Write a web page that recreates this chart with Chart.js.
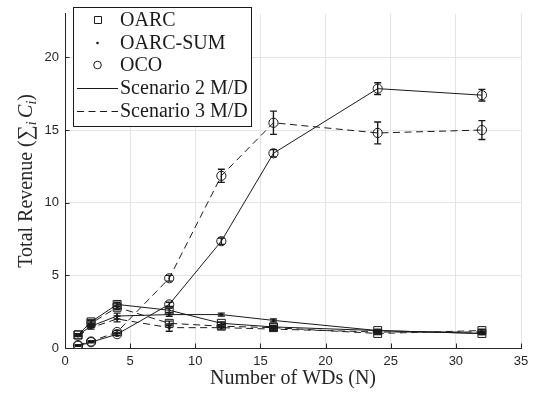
<!DOCTYPE html>
<html>
<head>
<meta charset="utf-8">
<script src="https://cdn.jsdelivr.net/npm/chart.js@4/dist/chart.umd.min.js"></script>
<style>
  html, body { margin: 0; padding: 0; background: #fff; }
  #wrap { width: 536px; height: 396px; }
</style>
</head>
<body>
<div id="wrap"><canvas id="c" width="536" height="396"></canvas></div>
<script>
// Number of WDs on the x axis
const wds = [1, 2, 4, 8, 12, 16, 24, 32];
const xTicks = [0, 5, 10, 15, 20, 25, 30, 35];
const yTicks = [0, 5, 10, 15, 20];

// Scenario 2 M/D (solid lines)
const oarcS2       = [0.90, 1.80, 3.00, 2.60, 1.70, 1.45, 1.20, 1.00];
const oarcS2Err    = [0.06, 0.10, 0.15, 0.15, 0.10, 0.10, 0.08, 0.08];
const oarcSumS2    = [0.90, 1.50, 2.20, 2.30, 2.30, 1.90, 1.20, 1.00];
const oarcSumS2Err = [0.06, 0.10, 0.20, 0.12, 0.10, 0.10, 0.08, 0.08];
const ocoS2        = [0.15, 0.40, 0.95, 3.00, 7.35, 13.40, 17.85, 17.40];
const ocoS2Err     = [0.03, 0.05, 0.08, 0.15, 0.22, 0.25, 0.40, 0.40];

// Scenario 3 M/D (dashed lines)
const oarcS3       = [0.90, 1.70, 2.80, 1.70, 1.50, 1.40, 1.00, 1.20];
const oarcS3Err    = [0.06, 0.10, 0.15, 0.15, 0.10, 0.10, 0.08, 0.10];
const oarcSumS3    = [0.85, 1.40, 2.00, 1.40, 1.40, 1.30, 1.10, 1.10];
const oarcSumS3Err = [0.06, 0.10, 0.20, 0.25, 0.10, 0.10, 0.08, 0.08];
const ocoS3        = [0.20, 0.45, 1.10, 4.80, 11.85, 15.50, 14.80, 15.00];
const ocoS3Err     = [0.03, 0.05, 0.10, 0.20, 0.45, 0.80, 0.75, 0.65];

const INK = '#1a1a1a';
const AXIS = '#262626';
const GRID = '#e4e4e4';
const SERIF = '"Liberation Serif", "DejaVu Serif", serif';
const SANS = '"Liberation Sans", "DejaVu Sans", sans-serif';

function series(values, errs, marker, dashed) {
  const pt = {
    square: { pointStyle: 'rect', pointRadius: 5.6 },
    dot:    { pointStyle: 'circle', pointRadius: 1.3 },
    circle: { pointStyle: 'circle', pointRadius: 4.6 }
  }[marker];
  return {
    data: wds.map((x, i) => ({ x: x, y: values[i] })),
    errors: errs,
    borderColor: INK,
    borderWidth: 1,
    borderDash: dashed ? [7, 4.5] : [],
    pointStyle: pt.pointStyle,
    pointRadius: pt.pointRadius,
    pointHoverRadius: pt.pointRadius,
    pointBorderColor: INK,
    pointBorderWidth: 1,
    pointBackgroundColor: marker === 'dot' ? INK : 'rgba(0,0,0,0)',
    fill: false,
    tension: 0
  };
}

const datasets = [
  series(oarcS2, oarcS2Err, 'square', false),
  series(oarcSumS2, oarcSumS2Err, 'dot', false),
  series(ocoS2, ocoS2Err, 'circle', false),
  series(oarcS3, oarcS3Err, 'square', true),
  series(oarcSumS3, oarcSumS3Err, 'dot', true),
  series(ocoS3, ocoS3Err, 'circle', true)
];

// vertical error bars with caps, placed through the chart scales
const errorBars = {
  id: 'errorBars',
  afterDatasetsDraw(chart) {
    const ctx = chart.ctx;
    const ys = chart.scales.y;
    ctx.save();
    ctx.strokeStyle = INK;
    ctx.lineWidth = 1.4;
    ctx.setLineDash([]);
    chart.data.datasets.forEach((ds, di) => {
      const meta = chart.getDatasetMeta(di);
      meta.data.forEach((el, j) => {
        const v = ds.data[j].y, e = ds.errors[j];
        const x = el.x;
        const t = ys.getPixelForValue(v + e);
        const b = ys.getPixelForValue(v - e);
        const cap = 3.5;
        ctx.beginPath();
        ctx.moveTo(x, t); ctx.lineTo(x, b);
        ctx.moveTo(x - cap, t); ctx.lineTo(x + cap, t);
        ctx.moveTo(x - cap, b); ctx.lineTo(x + cap, b);
        ctx.stroke();
      });
    });
    ctx.restore();
  }
};

// inward tick marks, axis titles and the legend box
const decorations = {
  id: 'decorations',
  afterDraw(chart) {
    const ctx = chart.ctx;
    const xs = chart.scales.x, ys = chart.scales.y;
    const a = chart.chartArea;
    ctx.save();
    ctx.strokeStyle = AXIS;
    ctx.lineWidth = 1;
    ctx.beginPath();
    xTicks.forEach(v => {
      const px = Math.round(xs.getPixelForValue(v)) + 0.5;
      ctx.moveTo(px, a.bottom); ctx.lineTo(px, a.bottom - 4.5);
    });
    yTicks.forEach(v => {
      const py = Math.round(ys.getPixelForValue(v)) + 0.5;
      ctx.moveTo(a.left, py); ctx.lineTo(a.left + 4.5, py);
    });
    ctx.stroke();

    // x axis title
    ctx.fillStyle = AXIS;
    ctx.font = '20px ' + SERIF;
    ctx.textAlign = 'center';
    ctx.textBaseline = 'alphabetic';
    ctx.fillText('Number of WDs (N)', (a.left + a.right) / 2, 384);

    // y axis title with summation and subscripts
    const parts = [
      { t: 'Total Revenue (', f: '20px ' + SERIF, dy: 0 },
      { t: '\u2211', f: '21px ' + SERIF, dy: 0 },
      { t: 'i', f: 'italic 14px ' + SERIF, dy: 4 },
      { t: ' ', f: '14px ' + SERIF, dy: 0 },
      { t: 'C', f: 'italic 20px ' + SERIF, dy: 0 },
      { t: 'i', f: 'italic 14px ' + SERIF, dy: 4 },
      { t: ')', f: '20px ' + SERIF, dy: 0 }
    ];
    let total = 0;
    parts.forEach(p => { ctx.font = p.f; p.w = ctx.measureText(p.t).width; total += p.w; });
    ctx.translate(32, (a.top + a.bottom) / 2);
    ctx.rotate(-Math.PI / 2);
    ctx.textAlign = 'left';
    let cx = -total / 2;
    parts.forEach(p => {
      ctx.font = p.f;
      ctx.fillText(p.t, cx, p.dy);
      cx += p.w;
    });
    ctx.setTransform(1, 0, 0, 1, 0, 0);

    // legend
    const L = { x: 73.5, y: 7.5, w: 178, h: 119 };
    ctx.fillStyle = '#fff';
    ctx.fillRect(L.x, L.y, L.w, L.h);
    ctx.strokeStyle = INK;
    ctx.lineWidth = 1;
    ctx.strokeRect(L.x, L.y, L.w, L.h);
    const rows = [
      { label: 'OARC', kind: 'square', y: 20 },
      { label: 'OARC-SUM', kind: 'dot', y: 43 },
      { label: 'OCO', kind: 'circle', y: 65 },
      { label: 'Scenario 2 M/D', kind: 'solid', y: 88 },
      { label: 'Scenario 3 M/D', kind: 'dashed', y: 111 }
    ];
    rows.forEach(r => {
      ctx.strokeStyle = INK;
      ctx.fillStyle = INK;
      ctx.lineWidth = 1;
      ctx.setLineDash([]);
      ctx.beginPath();
      if (r.kind === 'square') {
        ctx.rect(94.5, r.y - 3.5, 7, 7); ctx.stroke();
      } else if (r.kind === 'dot') {
        ctx.arc(97.5, r.y, 1.3, 0, Math.PI * 2); ctx.fill();
      } else if (r.kind === 'circle') {
        ctx.arc(97.5, r.y, 3.8, 0, Math.PI * 2); ctx.stroke();
      } else {
        if (r.kind === 'dashed') ctx.setLineDash([7, 4.5]);
        ctx.moveTo(77, r.y + 0.5); ctx.lineTo(118, r.y + 0.5); ctx.stroke();
      }
      ctx.setLineDash([]);
      ctx.fillStyle = INK;
      ctx.font = '20px ' + SERIF;
      ctx.textAlign = 'left';
      ctx.textBaseline = 'middle';
      ctx.fillText(r.label, 120, r.y + 1);
    });
    ctx.restore();
  }
};

new Chart(document.getElementById('c'), {
  type: 'line',
  data: { datasets: datasets },
  options: {
    responsive: false,
    animation: false,
    devicePixelRatio: 1,
    layout: { padding: { left: 0, right: 15, top: 6, bottom: 0 } },
    plugins: {
      legend: { display: false },
      tooltip: { enabled: false },
      title: { display: false }
    },
    scales: {
      x: {
        type: 'linear',
        min: 0, max: 35,
        afterFit(s) { s.height = 48; },
        afterBuildTicks(s) { s.ticks = xTicks.map(v => ({ value: v })); },
        grid: { color: GRID, lineWidth: 1, drawTicks: false },
        border: { display: true, color: AXIS, width: 1 },
        ticks: { color: AXIS, font: { family: SANS, size: 13 }, padding: 6, maxRotation: 0 }
      },
      y: {
        type: 'linear',
        min: 0, max: 23,
        afterFit(s) { s.width = 65; },
        afterBuildTicks(s) { s.ticks = yTicks.map(v => ({ value: v })); },
        grid: { color: GRID, lineWidth: 1, drawTicks: false },
        border: { display: true, color: AXIS, width: 1 },
        ticks: { color: AXIS, font: { family: SANS, size: 13 }, padding: 6 }
      }
    }
  },
  plugins: [errorBars, decorations]
});
</script>
</body>
</html>
